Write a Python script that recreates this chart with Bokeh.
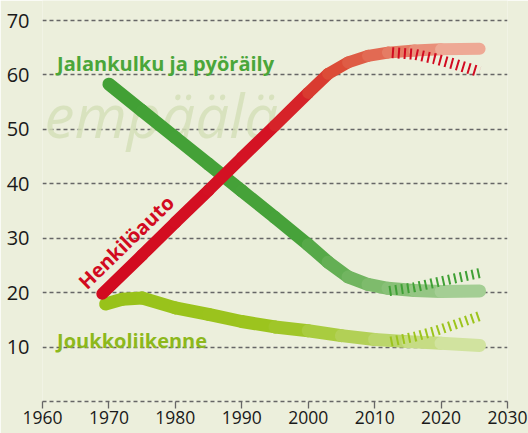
from bokeh.plotting import figure
from bokeh.models import FixedTicker, ColumnDataSource
from bokeh.core.properties import value
from bokeh.embed import file_html
from bokeh.resources import INLINE

# ---- data ----
car_years = [1969, 1975, 1980, 1985, 1990, 1995, 2000, 2003, 2006, 2009, 2012, 2016, 2020, 2025.8]
car_share = [19.8, 26.9, 32.9, 38.8, 44.8, 50.7, 56.7, 60.2, 62.3, 63.5, 64.1, 64.5, 64.7, 64.8]
car_alt_years = [2012.6, 2016, 2019, 2022, 2025.8]
car_alt_share = [64.1, 63.8, 63.0, 62.0, 60.6]

walk_years = [1970, 1975, 1980, 1985, 1990, 1995, 2000, 2003, 2006, 2009, 2012, 2016, 2020, 2025.8]
walk_share = [58.3, 53.4, 48.5, 43.6, 38.7, 33.8, 28.8, 25.6, 22.9, 21.5, 20.8, 20.4, 20.2, 20.3]
walk_alt_years = [2012.2, 2016, 2019, 2022, 2025.8]
walk_alt_share = [20.3, 21.0, 21.8, 22.6, 23.6]

bus_years = [1969.5, 1972, 1975, 1980, 1985, 1990, 1995, 2000, 2005, 2010, 2015, 2020, 2025.8]
bus_share = [17.9, 18.8, 19.0, 17.2, 16.0, 14.7, 13.7, 13.0, 12.1, 11.4, 11.0, 10.7, 10.3]
bus_alt_years = [2012.4, 2016, 2019, 2022, 2025.8]
bus_alt_share = [11.0, 11.9, 12.9, 14.1, 15.7]

x_ticks = [1960, 1970, 1980, 1990, 2000, 2010, 2020, 2030]
y_ticks = [10, 20, 30, 40, 50, 60, 70]

label_walk = "Jalankulku ja pyöräily"
label_bus = "Joukkoliikenne"
label_car = "Henkilöauto"
watermark = "empäälä"

# ---- styling helpers ----
def hex2rgb(h):
    h = h.lstrip("#")
    return tuple(int(h[i:i + 2], 16) for i in (0, 2, 4))

def interp_color(x, stops):
    if x <= stops[0][0]:
        return stops[0][1]
    for (x0, c0), (x1, c1) in zip(stops[:-1], stops[1:]):
        if x0 <= x <= x1:
            t = (x - x0) / (x1 - x0)
            a, b = hex2rgb(c0), hex2rgb(c1)
            return "#%02x%02x%02x" % tuple(round(a[i] + (b[i] - a[i]) * t) for i in range(3))
    return stops[-1][1]

def gradient_line(p, xs, ys, stops, width):
    seg_x = [[xs[i], xs[i + 1]] for i in range(len(xs) - 1)]
    seg_y = [[ys[i], ys[i + 1]] for i in range(len(ys) - 1)]
    cols = [interp_color((xs[i] + xs[i + 1]) / 2, stops) for i in range(len(xs) - 1)]
    src = ColumnDataSource(dict(xs=seg_x, ys=seg_y, c=cols))
    p.multi_line("xs", "ys", source=src, line_color="c", line_width=width,
                 line_cap="round", line_join="round")

BG = "#ecefdc"
FONT = "Open Sans"

p = figure(width=528, height=433, x_range=(1960, 2030), y_range=(0, 73.675),
           output_backend="svg", toolbar_location=None,
           min_border_left=42, min_border_right=21, min_border_top=0, min_border_bottom=32)
p.background_fill_color = BG
p.border_fill_color = BG
p.outline_line_color = None

# watermark (faint background lettering)
p.text(x=[1960.3], y=[52.6], text=[watermark], text_font=value(FONT), text_font_style="italic",
       text_font_size="60px", text_color="#d5dfb9", text_alpha=0.85, text_baseline="alphabetic")

# grid
p.xgrid.grid_line_color = None
p.ygrid.ticker = FixedTicker(ticks=y_ticks)
p.ygrid.grid_line_color = "#666666"
p.ygrid.grid_line_dash = "4 3"
p.ygrid.grid_line_width = 1.3

# axes
p.yaxis.ticker = FixedTicker(ticks=y_ticks)
p.yaxis.axis_line_color = None
p.yaxis.major_tick_line_color = None
p.yaxis.minor_tick_line_color = None
p.yaxis.major_label_standoff = 7
p.yaxis.major_label_text_font = FONT
p.yaxis.major_label_text_font_size = "20px"
p.yaxis.major_label_text_color = "#1a1a1a"

p.xaxis.ticker = FixedTicker(ticks=x_ticks)
p.xaxis.axis_line_color = "#666666"
p.xaxis.axis_line_dash = "4 3"
p.xaxis.axis_line_width = 1.3
p.xaxis.major_tick_line_color = "#666666"
p.xaxis.major_tick_line_width = 1.3
p.xaxis.major_tick_out = 7
p.xaxis.major_tick_in = 0
p.xaxis.minor_tick_line_color = None
p.xaxis.major_label_standoff = 2
p.xaxis.major_label_text_font = FONT
p.xaxis.major_label_text_font_size = "17.5px"
p.xaxis.major_label_text_color = "#1a1a1a"

# lines
gradient_line(p, bus_years, bus_share,
              [(1969, "#98c21a"), (1995, "#9cc41e"), (2013, "#bcd66e"), (2026, "#d8e7ae")], 13)
gradient_line(p, walk_years, walk_share,
              [(1970, "#42a035"), (1998, "#47a23a"), (2010, "#7cba6a"), (2026, "#aed39e")], 13)
gradient_line(p, car_years, car_share,
              [(1969, "#d20a20"), (1995, "#d41424"), (2004, "#db4a35"), (2013, "#e4775f"), (2026, "#f1b8a6")], 12)

# hatched projections
p.line(bus_alt_years, bus_alt_share, line_color="#9cc41c", line_width=10, line_dash="2 4", line_cap="butt")
p.line(walk_alt_years, walk_alt_share, line_color="#3fa035", line_width=10, line_dash="2 4", line_cap="butt")
p.line(car_alt_years, car_alt_share, line_color="#d20a20", line_width=11, line_dash="2 4", line_cap="butt")

# series labels
p.text(x=[1962.2], y=[62.1], text=[label_walk], text_font=value(FONT), text_font_style="bold",
       text_font_size="20px", text_color="#4aa63a", text_baseline="alphabetic")
p.text(x=[1962.2], y=[11.2], text=[label_bus], text_font=value(FONT), text_font_style="bold",
       text_font_size="20px", text_color="#8db81c", text_baseline="alphabetic")
p.text(x=[1965.9], y=[21.4], text=[label_car], text_font=value(FONT), text_font_style="bold",
       text_font_size="20px", text_color="#d20a20", text_baseline="alphabetic", angle=0.77)

open("out.html", "w").write(file_html(p, INLINE))
